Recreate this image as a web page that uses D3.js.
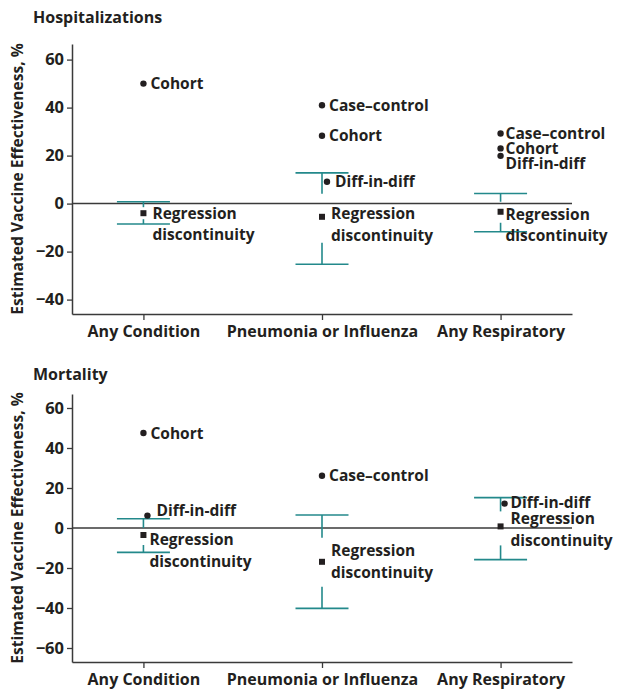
<!DOCTYPE html>
<html>
<head>
<meta charset="utf-8">
<script src="https://cdn.jsdelivr.net/npm/d3@7"></script>
<style>
  body { margin: 0; background: #fff; }
  svg text { font-family: "Open Sans", sans-serif; font-weight: 700; fill: #231f20; }
</style>
</head>
<body>
<svg id="chart" width="618" height="692"></svg>
<script>
// categories on the x axis
const categories = ["Any Condition", "Pneumonia or Influenza", "Any Respiratory"];

// Hospitalizations, estimated vaccine effectiveness (%)
const hospCohort      = [50, 28.3, 23];
const hospCaseControl = [null, 41, 29.2];
const hospDiffInDiff  = [null, 9.1, 19.9];
const hospRD          = [-4, -5.5, -3.4];
const hospRDLow       = [-8.5, -25.3, -11.7];
const hospRDHigh      = [0.8, 12.8, 4.2];

// Mortality
const mortCohort      = [47.5, null, null];
const mortCaseControl = [null, 26.1, null];
const mortDiffInDiff  = [6.2, null, 12.2];
const mortRD          = [-3.5, -16.9, 0.8];
const mortRDLow       = [-12.2, -40.2, -15.8];
const mortRDHigh      = [4.6, 6.5, 15.2];

const hospTicks = [60, 40, 20, 0, -20, -40];
const mortTicks = [60, 40, 20, 0, -20, -40, -60];

const teal = "#23898b";
const axisColor = "#3a3a3a";

const svg = d3.select("#chart");

const x = d3.scalePoint().domain(categories).range([72, 572]).padding(0.4);

function drawPanel(p) {
  const g = svg.append("g");
  const y = d3.scaleLinear().domain(p.domain).range([p.bottom, p.top]);

  // title
  g.append("text").attr("x", 33).attr("y", p.titleY)
    .style("font-size", "16px").text(p.title);

  // y axis title
  g.append("text")
    .attr("transform", "translate(23," + ((p.top + p.bottom) / 2) + ") rotate(-90)")
    .attr("text-anchor", "middle")
    .style("font-size", "15.6px")
    .text("Estimated Vaccine Effectiveness, %");

  // y axis
  const yAxis = g.append("g").attr("transform", "translate(72,0)")
    .call(d3.axisLeft(y).tickValues(p.ticks).tickSize(5).tickSizeOuter(0)
      .tickFormat(d => d < 0 ? "\u2212" + Math.abs(d) : d));
  yAxis.select(".domain").attr("stroke", axisColor).attr("stroke-width", 1.5);
  yAxis.selectAll(".tick line").attr("stroke", axisColor).attr("stroke-width", 1.3);
  yAxis.selectAll(".tick text").attr("x", -8)
    .style("font-size", "16.5px").style("font-family", "'Open Sans', sans-serif").attr("fill", "#231f20");

  // x axis
  const xAxis = g.append("g").attr("transform", "translate(0," + p.bottom + ")")
    .call(d3.axisBottom(x).tickSize(6).tickSizeOuter(0));
  xAxis.select(".domain").attr("stroke", axisColor).attr("stroke-width", 1.5);
  xAxis.selectAll(".tick line").attr("stroke", axisColor).attr("stroke-width", 1.3);
  xAxis.selectAll(".tick text").attr("y", 12)
    .style("font-size", "16px").style("font-family", "'Open Sans', sans-serif").attr("fill", "#231f20");

  // zero line
  g.append("line").attr("x1", 72).attr("x2", 572)
    .attr("y1", y(0)).attr("y2", y(0))
    .attr("stroke", axisColor).attr("stroke-width", 1.5);

  // confidence intervals of regression discontinuity
  categories.forEach((c, i) => {
    const cx = x(c);
    const ym = y(p.rd[i]);
    const gap = p.gaps[i];
    [p.rdLow[i], p.rdHigh[i]].forEach(v => {
      g.append("line").attr("x1", cx - 26.5).attr("x2", cx + 26.5)
        .attr("y1", y(v)).attr("y2", y(v))
        .attr("stroke", teal).attr("stroke-width", 1.6);
    });
    g.append("line").attr("x1", cx).attr("x2", cx)
      .attr("y1", y(p.rdHigh[i])).attr("y2", ym - gap[0])
      .attr("stroke", teal).attr("stroke-width", 1.6);
    g.append("line").attr("x1", cx).attr("x2", cx)
      .attr("y1", ym + gap[1]).attr("y2", y(p.rdLow[i]))
      .attr("stroke", teal).attr("stroke-width", 1.6);
  });

  // point estimates
  p.series.forEach(s => {
    s.values.forEach((v, i) => {
      if (v == null) return;
      const lay = (p.labels[s.name] || {})[i] || {};
      const cx = x(categories[i]) + (lay.mx || 0);
      const cy = y(v);
      if (s.square) {
        g.append("rect").attr("x", cx - 3).attr("y", cy - 3)
          .attr("width", 6).attr("height", 6).attr("fill", "#231f20");
      } else {
        g.append("circle").attr("cx", cx).attr("cy", cy).attr("r", 3.2).attr("fill", "#231f20");
      }
      const lines = s.label.split("\n");
      const lx = cx + (lay.dx == null ? 7 : lay.dx);
      const t = g.append("text")
        .attr("x", lx)
        .attr("y", cy + (lay.dy || 0))
        .style("font-size", "15.5px");
      lines.forEach((ln, k) => {
        t.append("tspan").attr("x", lx)
          .attr("dy", k === 0 ? "0.36em" : "21.5px").text(ln);
      });
    });
  });
}

drawPanel({
  title: "Hospitalizations", titleY: 23,
  domain: [-46, 66.5], top: 44, bottom: 314, ticks: hospTicks,
  rd: hospRD, rdLow: hospRDLow, rdHigh: hospRDHigh,
  gaps: [[6, 6], [23, 26], [10, 11]],
  series: [
    { name: "cohort", label: "Cohort", values: hospCohort },
    { name: "cc", label: "Case\u2013control", values: hospCaseControl },
    { name: "did", label: "Diff-in-diff", values: hospDiffInDiff },
    { name: "rd", label: "Regression\ndiscontinuity", values: hospRD, square: true }
  ],
  labels: {
    cohort: { 2: { dx: 5 } },
    cc: { 2: { dx: 5 } },
    did: { 1: { mx: 5, dx: 8 }, 2: { dx: 5, dy: 7.5 } },
    rd: { 0: { dx: 9 }, 1: { dx: 9, dy: -3 }, 2: { dx: 5, dy: 2.5 } }
  }
});

drawPanel({
  title: "Mortality", titleY: 380,
  domain: [-67, 67], top: 394, bottom: 662, ticks: mortTicks,
  rd: mortRD, rdLow: mortRDLow, rdHigh: mortRDHigh,
  gaps: [[7, 10], [24, 25], [15, 19]],
  series: [
    { name: "cohort", label: "Cohort", values: mortCohort },
    { name: "cc", label: "Case\u2013control", values: mortCaseControl },
    { name: "did", label: "Diff-in-diff", values: mortDiffInDiff },
    { name: "rd", label: "Regression\ndiscontinuity", values: mortRD, square: true }
  ],
  labels: {
    did: { 0: { mx: 4, dx: 9, dy: -5 }, 2: { mx: 4, dx: 6, dy: -1 } },
    rd: { 0: { dx: 6, dy: 4.5 }, 1: { dx: 9, dy: -11 }, 2: { dx: 10, dy: -7.5 } }
  }
});
</script>
</body>
</html>
